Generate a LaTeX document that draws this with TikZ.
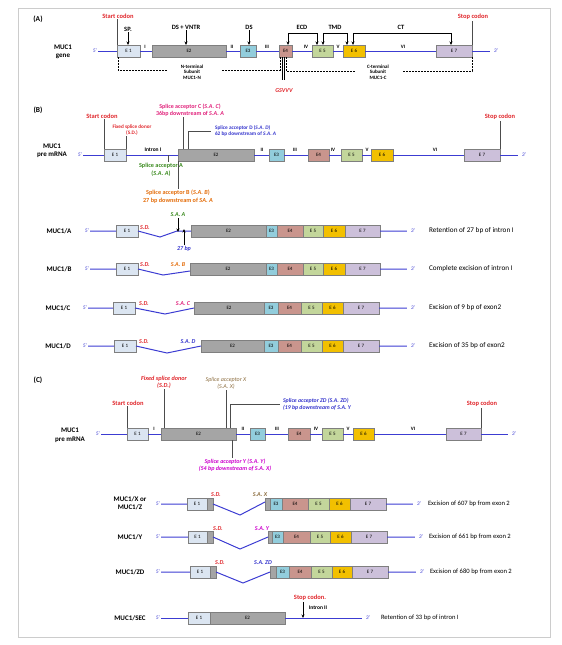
\documentclass[tikz,border=0pt]{standalone}
\usepackage{fontspec}
\setmainfont{Carlito}
\usetikzlibrary{arrows.meta}
\definecolor{cEa}{HTML}{DBE5F1}
\definecolor{cEb}{HTML}{A5A5A5}
\definecolor{cEc}{HTML}{92CDDC}
\definecolor{cEd}{HTML}{C9958D}
\definecolor{cEe}{HTML}{C3D69B}
\definecolor{cEf}{HTML}{F2C000}
\definecolor{cEg}{HTML}{CCC0DA}
\definecolor{exb}{HTML}{7F7F7F}
\definecolor{intb}{HTML}{3C3CD2}
\definecolor{cred}{HTML}{E0262B}
\definecolor{cpink}{HTML}{E0207A}
\definecolor{cmag}{HTML}{CC00CC}
\definecolor{cgrn}{HTML}{3A8A1E}
\definecolor{corg}{HTML}{E36C09}
\definecolor{cblu}{HTML}{3333CC}
\definecolor{cbrn}{HTML}{8C6D3F}
\newcommand\fsz[2]{\fontsize{#1}{#2}\selectfont}
\newcommand\ex[7]{\node[exon,fill=#6,minimum width={(#3)-(#2)},minimum height={(#5)-(#4)}] (#1) at ({((#2)+(#3))/2},{((#4)+(#5))/2}) {#7};}
\begin{document}
\begin{tikzpicture}[x=1pt,y=-1pt,
  exon/.style={draw=exb,line width=0.6pt,inner sep=0pt,outer sep=0pt,font=\fsz{5}{5.5}},
  intron/.style={draw=intb,line width=1pt},
  lab/.style={inner sep=0pt,outer sep=1pt,align=center},
  hdr/.style={lab,font=\fsz{7.5}{8.5}\bfseries},
  rowlab/.style={lab,font=\fsz{7}{8.5}\bfseries},
  pr/.style={lab,font=\fsz{5.5}{6.5}\itshape,text=intb},
  rn/.style={lab,font=\fsz{5}{5.5}\bfseries},
  redb/.style={lab,font=\fsz{6.5}{7.5}\bfseries,text=cred},
  top/.style={lab,font=\fsz{6.5}{7.5}\bfseries},
  small/.style={lab,font=\fsz{5}{5.6}\bfseries},
  desc/.style={lab,anchor=west,font=\fsz{7.2}{8}},
  descc/.style={desc,font=\fsz{6.6}{7.5}},
  sd/.style={lab,font=\fsz{6}{7}\bfseries\itshape},
  lead/.style={draw=gray!60!black,line width=0.6pt},
  arr/.style={-{Stealth[length=3.5pt,width=3pt]},line width=0.7pt},
  brk/.style={{Stealth[length=3.5pt,width=3pt]}-{Stealth[length=3.5pt,width=3pt]},line width=0.7pt},
  dsh/.style={dash pattern=on 2pt off 1pt,line width=0.7pt},
  cleave/.style={line width=0.6pt}]
\useasboundingbox (0,0) rectangle (562,645);
\draw[draw=gray!40,line width=0.5pt] (18,8) rectangle (550,637);

% ================= (A) =================
\node[hdr] (hA) at (38,19) {(A)};
\node[rowlab] (gA) at (63,52) {MUC1\\gene};
\node[pr] (a5p) at (95,51) {5’};
\ex{aE1}{117}{140}{45}{57}{cEa}{E 1}
\ex{aE2}{152}{226}{45}{57}{cEb}{E2}
\ex{aE3}{240}{256}{45}{57}{cEc}{E3}
\ex{aE4}{279}{292}{45}{57}{cEd}{E4}
\ex{aE5}{312}{333}{45}{57}{cEe}{E 5}
\ex{aE6}{343}{365}{45}{57}{cEf}{E 6}
\ex{aE7}{436}{472}{45}{57}{cEg}{E 7}
\node[pr] (a3p) at (496,51) {3’};
\draw[intron] (a5p.east) -- (aE1.west) (aE1.east) -- (aE2.west) (aE2.east) -- (aE3.west)
  (aE3.east) -- (aE4.west) (aE4.east) -- (aE5.west) (aE5.east) -- (aE6.west)
  (aE6.east) -- (aE7.west) (aE7.east) -- ([xshift=-3pt]a3p.west);
\node[rn] (ar1) at (145,47) {I};
\node[rn] (ar2) at (232,47) {II};
\node[rn] (ar3) at (267,47) {III};
\node[rn] (ar4) at (306,47) {IV};
\node[rn] (ar5) at (338,47) {V};
\node[rn] (ar6) at (403,47) {VI};
\node[redb] (stA) at (118,16) {Start codon};
\draw[lead] (aE1.north west) -- (aE1.north west |- stA.south);
\node[redb] (spA) at (473,17) {Stop codon};
\draw[lead] (aE7.north east) -- (aE7.north east |- spA.south);
\node[top] (sp) at (128,29) {SP.};
\draw[arr] (sp.south) -- (sp.south |- aE1.north);
\node[top] (dsv) at (186,27) {DS + VNTR};
\draw[arr] (dsv.south) -- (dsv.south |- aE2.north);
\node[top] (ds) at (249,27) {DS};
\draw[arr] (ds.south) -- (ds.south |- aE3.north);
\node[top] (ecd) at (302,27) {ECD};
\draw[brk] ([xshift=-4pt]aE4.north east) -- ++(0,-12) -| ([xshift=5pt]aE5.north west);
\node[top] (tmd) at (335,27) {TMD};
\draw[brk] ([xshift=-10pt]aE5.north east) -- ++(0,-12) -| ([xshift=4pt]aE6.north west);
\node[top] (ct) at (401,27) {CT};
\draw[brk] ([xshift=-12pt]aE6.north east) -- ++(0,-12) -| ([xshift=15pt]aE7.north west);
\node[small] (nsub) at (192,72) {N-terminal\\Subunit\\MUC1-N};
\node[small] (csub) at (378,72) {C-terminal\\Subunit\\MUC1-C};
\draw[dsh] ([xshift=1pt]aE1.south west) -- ++(0,13) -- ([xshift=-12pt]nsub.west |- 0,70);
\draw[dsh] (222,70) -| ([xshift=1pt]aE4.south west);
\draw[cleave] ([xshift=3pt]aE4.south west) -- ++(0,23);
\draw[cleave] ([xshift=5pt]aE4.south west) -- ++(0,23);
\draw[dsh] ([xshift=7pt]aE4.south west) |- (355,71);
\draw[dsh] (403,71) -| (aE7.south east);
\node[lab,font=\fsz{6}{7}\bfseries\itshape,text=cred] (gs) at (284,91) {GSVVV};

% ================= (B) =================
\node[hdr] (hB) at (38,110) {(B)};
\node[rowlab] (gB) at (52,151) {MUC1\\pre mRNA};
\node[pr] (b5p) at (80,155) {5’};
\ex{bE1}{104}{126}{149}{161}{cEa}{E 1}
\ex{bE2}{178}{254}{149}{161}{cEb}{E2}
\ex{bE3}{269}{284}{149}{161}{cEc}{E3}
\ex{bE4}{308}{329}{149}{161}{cEd}{E4}
\ex{bE5}{341}{362}{149}{161}{cEe}{E 5}
\ex{bE6}{371}{393}{149}{161}{cEf}{E 6}
\ex{bE7}{464}{500}{149}{161}{cEg}{E 7}
\node[pr] (b3p) at (524,155) {3’};
\draw[intron] (b5p.east) -- (bE1.west) (bE1.east) -- (bE2.west) (bE2.east) -- (bE3.west)
  (bE3.east) -- (bE4.west) (bE4.east) -- (bE5.west) (bE5.east) -- (bE6.west)
  (bE6.east) -- (bE7.west) (bE7.east) -- ([xshift=-3pt]b3p.west);
\node[rn,font=\fsz{5.5}{6}\bfseries] (intI) at (153,149.5) {Intron I};
\node[rn] (br2) at (262,150) {II};
\node[rn] (br3) at (295,150) {III};
\node[rn] (br4) at (333,150) {IV};
\node[rn] (br5) at (367,150) {V};
\node[rn] (br6) at (435,150) {VI};
\node[redb] (stB) at (102,116) {Start codon};
\draw[lead] (bE1.north west) -- (bE1.north west |- stB.south);
\node[redb] (spB) at (500,117) {Stop codon};
\draw[lead] (bE7.north east) -- (bE7.north east |- spB.south);
\node[lab,font=\fsz{5.2}{6.2}\bfseries,text=cred] (fsdB) at (132,130) {Fixed splice donor\\(S.D.)};
\draw[lead] (bE1.north east) -- (bE1.north east |- fsdB.south);
\node[lab,font=\fsz{6}{7.2}\bfseries,text=cpink] (sacB) at (190,110) {Splice acceptor C (\textit{S.A. C})\\36bp downstream of \textit{S.A. A}};
\draw[lead] ([xshift=5pt]bE2.north west) -- ([xshift=5pt]bE2.north west |- sacB.south);
\node[lab,font=\fsz{5.3}{6.2}\bfseries,text=cblu,anchor=west,align=left] (sadB) at (214,131) {Splice acceptor D (\textit{S.A. D})\\62 bp downstream of \textit{S.A. A}};
\draw[lead] ([xshift=10pt]bE2.north west) |- ([xshift=-3pt]sadB.west);
\node[lab,font=\fsz{6.2}{7.8}\bfseries,text=cgrn] (saaB) at (161,169.5) {Splice acceptor A\\(\textit{S.A. A})};
\coordinate (kSA) at (168,155);
\draw[lead] (kSA) -- (kSA |- saaB.north);
\node[lab,font=\fsz{6.2}{7.8}\bfseries,text=corg] (sabB) at (178,196.5) {Splice acceptor B (\textit{S.A. B})\\27 bp downstream of \textit{SA. A}};
\draw[lead] (bE2.south west) -- (bE2.south west |- sabB.north);

% --- MUC1/A
\node[rowlab] (rlA) at (59,231) {MUC1/A};
\node[pr] (rA5) at (87,231) {5’};
\ex{rAE1}{116}{138}{225}{237}{cEa}{E 1}
\ex{rAE2}{191}{266}{225}{237}{cEb}{E2}
\ex{rAE3}{266}{277}{225}{237}{cEc}{E3}
\ex{rAE4}{277}{303}{225}{237}{cEd}{E4}
\ex{rAE5}{303}{323}{225}{237}{cEe}{E 5}
\ex{rAE6}{323}{345}{225}{237}{cEf}{E 6}
\ex{rAE7}{345}{380}{225}{237}{cEg}{E 7}
\node[pr] (rA3) at (413,231) {3’};
\coordinate (vA) at (160,237);
\coordinate (kA) at (177,231);
\draw[intron] (rA5.east) -- (rAE1.west) (rAE1.east) -- (vA) -- (kA) -- (rAE2.west)
  (rAE7.east) -- ([xshift=-3pt]rA3.west);
\node[desc] (dA) at (428,231) {Retention of 27 bp of intron I};
\node[sd,text=cred] (sdA) at (145,228) {S.D.};
\node[sd,text=cgrn] (saA) at (178,215) {S.A. A};
\draw[arr] (saA.south) -- ([yshift=-1pt]saA.south |- kA);
\node[sd,text=cblu] (bp27) at (184,249) {27 bp};
\draw[arr] (bp27.north) -- ([yshift=2pt]bp27.north |- kA);

% --- MUC1/B
\node[rowlab] (rlB) at (59,269) {MUC1/B};
\node[pr] (rB5) at (87,269) {5’};
\ex{rBE1}{116}{138}{263}{275}{cEa}{E 1}
\ex{rBE2}{190}{266}{263}{275}{cEb}{E2}
\ex{rBE3}{266}{277}{263}{275}{cEc}{E3}
\ex{rBE4}{277}{303}{263}{275}{cEd}{E4}
\ex{rBE5}{303}{323}{263}{275}{cEe}{E 5}
\ex{rBE6}{323}{345}{263}{275}{cEf}{E 6}
\ex{rBE7}{345}{380}{263}{275}{cEg}{E 7}
\node[pr] (rB3) at (413,269) {3’};
\coordinate (vB) at (163,275);
\draw[intron] (rB5.east) -- (rBE1.west) (rBE1.east) -- (vB) -- ([yshift=-2pt]rBE2.west)
  (rBE7.east) -- ([xshift=-3pt]rB3.west);
\node[desc] (dB) at (428,269) {Complete excision of intron I};
\node[sd,text=cred] (sdB) at (145,265) {S.D.};
\node[sd,text=corg] (saB) at (178,265) {S.A. B};

% --- MUC1/C
\node[rowlab] (rlC) at (58,308) {MUC1/C};
\node[pr] (rC5) at (85,308) {5’};
\ex{rCE1}{113}{135}{302}{314}{cEa}{E 1}
\ex{rCE2}{194}{264}{302}{314}{cEb}{E2}
\ex{rCE3}{264}{278}{302}{314}{cEc}{E3}
\ex{rCE4}{278}{301}{302}{314}{cEd}{E4}
\ex{rCE5}{301}{322}{302}{314}{cEe}{E 5}
\ex{rCE6}{322}{343}{302}{314}{cEf}{E 6}
\ex{rCE7}{343}{379}{302}{314}{cEg}{E 7}
\node[pr] (rC3) at (413,308) {3’};
\coordinate (vC) at (165,314);
\draw[intron] (rC5.east) -- (rCE1.west) (rCE1.east) -- (vC) -- (rCE2.west)
  (rCE7.east) -- ([xshift=-3pt]rC3.west);
\node[desc] (dC) at (428,308) {Excision of 9 bp of exon2};
\node[sd,text=cred] (sdC) at (144,304) {S.D.};
\node[sd,text=cpink] (saC) at (183,304) {S.A. C};

% --- MUC1/D
\node[rowlab] (rlD) at (58,346) {MUC1/D};
\node[pr] (rD5) at (85,346) {5’};
\ex{rDE1}{114}{136}{340}{352}{cEa}{E 1}
\ex{rDE2}{201}{264}{340}{352}{cEb}{E2}
\ex{rDE3}{264}{278}{340}{352}{cEc}{E3}
\ex{rDE4}{278}{301}{340}{352}{cEd}{E4}
\ex{rDE5}{301}{322}{340}{352}{cEe}{E 5}
\ex{rDE6}{322}{343}{340}{352}{cEf}{E 6}
\ex{rDE7}{343}{379}{340}{352}{cEg}{E 7}
\node[pr] (rD3) at (413,346) {3’};
\coordinate (vD) at (167,353);
\draw[intron] (rD5.east) -- (rDE1.west) (rDE1.east) -- (vD) -- (rDE2.west)
  (rDE7.east) -- ([xshift=-3pt]rD3.west);
\node[desc] (dD) at (428,346) {Excision of 35 bp of exon2};
\node[sd,text=cred] (sdD) at (144,342) {S.D.};
\node[sd,text=cblu] (saD) at (188,342) {S.A. D};

% ================= (C) =================
\node[hdr] (hC) at (38,380) {(C)};
\node[rowlab] (gC) at (70,435) {MUC1\\pre mRNA};
\node[pr] (c5p) at (98,434) {5’};
\ex{cE1}{127}{148}{428}{440}{cEa}{E 1}
\ex{cE2}{161}{236}{428}{440}{cEb}{E2}
\ex{cE3}{250}{265}{428}{440}{cEc}{E3}
\ex{cE4}{288}{310}{428}{440}{cEd}{E4}
\ex{cE5}{322}{343}{428}{440}{cEe}{E 5}
\ex{cE6}{353}{374}{428}{440}{cEf}{E 6}
\ex{cE7}{446}{481}{428}{440}{cEg}{E 7}
\node[pr] (c3p) at (514,434) {3’};
\draw[intron] (c5p.east) -- (cE1.west) (cE1.east) -- (cE2.west) (cE2.east) -- (cE3.west)
  (cE3.east) -- (cE4.west) (cE4.east) -- (cE5.west) (cE5.east) -- (cE6.west)
  (cE6.east) -- (cE7.west) (cE7.east) -- ([xshift=-3pt]c3p.west);
\node[rn] (cr1) at (154,429) {I};
\node[rn] (cr2) at (243,429) {II};
\node[rn] (cr3) at (277,429) {III};
\node[rn] (cr4) at (316,429) {IV};
\node[rn] (cr5) at (348,429) {V};
\node[rn] (cr6) at (413,429) {VI};
\node[redb] (stC) at (128,403) {Start codon};
\draw[lead] (cE1.north west) -- (cE1.north west |- stC.south);
\node[redb] (spC) at (482,404) {Stop codon};
\draw[lead] (cE7.north east) -- (cE7.north east |- spC.south);
\node[lab,font=\fsz{6.2}{7.2}\bfseries\itshape,text=cred] (fsdC) at (164,382) {Fixed splice donor\\(S.D.)};
\draw[lead] ([xshift=3pt]cE2.north west) -- ([xshift=3pt]cE2.north west |- fsdC.south);
\node[lab,font=\fsz{6}{7.2}\itshape,text=cbrn] (saxC) at (226,383) {Splice acceptor X\\(S.A. X)};
\draw[lead] ([xshift=-10pt]cE2.north east) -- ([xshift=-10pt]cE2.north east |- saxC.south);
\node[lab,font=\fsz{5.8}{7}\bfseries\itshape,text=cblu,anchor=west,align=left] (sazC) at (282,404) {Splice acceptor ZD (S.A. ZD)\\(19 bp downstream of S.A. Y};
\draw[lead] ([xshift=-6pt]cE2.north east) |- ([xshift=-2pt]sazC.west);
\node[lab,font=\fsz{6}{7.2}\bfseries\itshape,text=cmag] (sayC) at (235,465.5) {Splice acceptor Y (S.A. Y)\\(54 bp downstream of S.A. X)};
\draw[lead] ([xshift=-4pt]cE2.south east) -- ([xshift=-4pt]cE2.south east |- sayC.north);

% --- MUC1/X or MUC1/Z
\node[rowlab] (rlX) at (130,503) {MUC1/X or\\MUC1/Z};
\node[pr] (rX5) at (158,504) {5’};
\ex{rXE1}{187}{207}{498}{510}{cEa}{E 1}
\ex{rXG1}{207}{213}{498}{510}{cEb}{}
\ex{rXG2}{265}{270}{498}{510}{cEb}{}
\ex{rXE3}{270}{282}{498}{510}{cEc}{E3}
\ex{rXE4}{282}{308}{498}{510}{cEd}{E4}
\ex{rXE5}{308}{329}{498}{510}{cEe}{E 5}
\ex{rXE6}{329}{350}{498}{510}{cEf}{E 6}
\ex{rXE7}{350}{386}{498}{510}{cEg}{E 7}
\node[pr] (rX3) at (419,504) {3’};
\coordinate (vX) at (240,515);
\draw[intron] (rX5.east) -- (rXE1.west) (rXG1.east) -- (vX) -- ([yshift=2pt]rXG2.west)
  (rXE7.east) -- ([xshift=-3pt]rX3.west);
\node[descc] (dX) at (427,504) {Excision of 607 bp from exon 2};
\node[sd,text=cred] (sdX) at (216,495) {S.D.};
\node[sd,text=cbrn] (saX) at (260,495) {S.A. X};

% --- MUC1/Y
\node[rowlab] (rlY) at (130,537) {MUC1/Y};
\node[pr] (rY5) at (158,537) {5’};
\ex{rYE1}{188}{207}{531}{543}{cEa}{E 1}
\ex{rYG1}{207}{213}{531}{543}{cEb}{}
\ex{rYG2}{268}{272}{531}{543}{cEb}{}
\ex{rYE3}{272}{283}{531}{543}{cEc}{E3}
\ex{rYE4}{283}{310}{531}{543}{cEd}{E4}
\ex{rYE5}{310}{330}{531}{543}{cEe}{E 5}
\ex{rYE6}{330}{351}{531}{543}{cEf}{E 6}
\ex{rYE7}{351}{387}{531}{543}{cEg}{E 7}
\node[pr] (rY3) at (421,537) {3’};
\coordinate (vY) at (240,549);
\draw[intron] (rY5.east) -- (rYE1.west) (rYG1.east) -- (vY) -- (rYG2.west)
  (rYE7.east) -- ([xshift=-3pt]rY3.west);
\node[descc] (dY) at (428,537) {Excision of 661 bp from exon 2};
\node[sd,text=cred] (sdY) at (218,529) {S.D.};
\node[sd,text=cmag] (saY) at (262,529) {S.A. Y};

% --- MUC1/ZD
\node[rowlab] (rlZ) at (130,572) {MUC1/ZD};
\node[pr] (rZ5) at (158,572) {5’};
\ex{rZE1}{190}{210}{566}{578}{cEa}{E 1}
\ex{rZG1}{210}{216}{566}{578}{cEb}{}
\ex{rZG2}{270}{276}{566}{578}{cEb}{}
\ex{rZE3}{276}{289}{566}{578}{cEc}{E3}
\ex{rZE4}{289}{311}{566}{578}{cEd}{E4}
\ex{rZE5}{311}{332}{566}{578}{cEe}{E 5}
\ex{rZE6}{332}{352}{566}{578}{cEf}{E 6}
\ex{rZE7}{352}{388}{566}{578}{cEg}{E 7}
\node[pr] (rZ3) at (422,572) {3’};
\coordinate (vZ) at (243,583);
\draw[intron] (rZ5.east) -- (rZE1.west) (rZG1.east) -- (vZ) -- (rZG2.west)
  (rZE7.east) -- ([xshift=-3pt]rZ3.west);
\node[descc] (dZ) at (429,572) {Excision of 680 bp from exon 2};
\node[sd,text=cred] (sdZ) at (220,563) {S.D.};
\node[sd,text=cblu] (saZ) at (263,563) {S.A. ZD};

% --- MUC1/SEC
\node[rowlab] (rlS) at (130,618) {MUC1/SEC};
\node[pr] (rS5) at (158,618) {5’};
\ex{rSE1}{188}{210}{612}{624}{cEa}{E 1}
\ex{rSE2}{210}{285}{612}{624}{cEb}{E2}
\node[pr] (rS3) at (368,618) {3’};
\draw[intron] (rS5.east) -- (rSE1.west) (rSE2.east) -- ([xshift=-3pt]rS3.west);
\node[descc] (dS) at (380,618) {Retention of 33 bp of intron I};
\node[redb] (stS) at (310,598) {Stop codon.};
\draw[arr] ([xshift=-7pt]stS.south) -- ([xshift=-7pt]stS.south |- rSE2.east);
\node[rn,font=\fsz{5.5}{6}\bfseries] (iS) at (318,608) {Intron II};
\end{tikzpicture}
\end{document}
